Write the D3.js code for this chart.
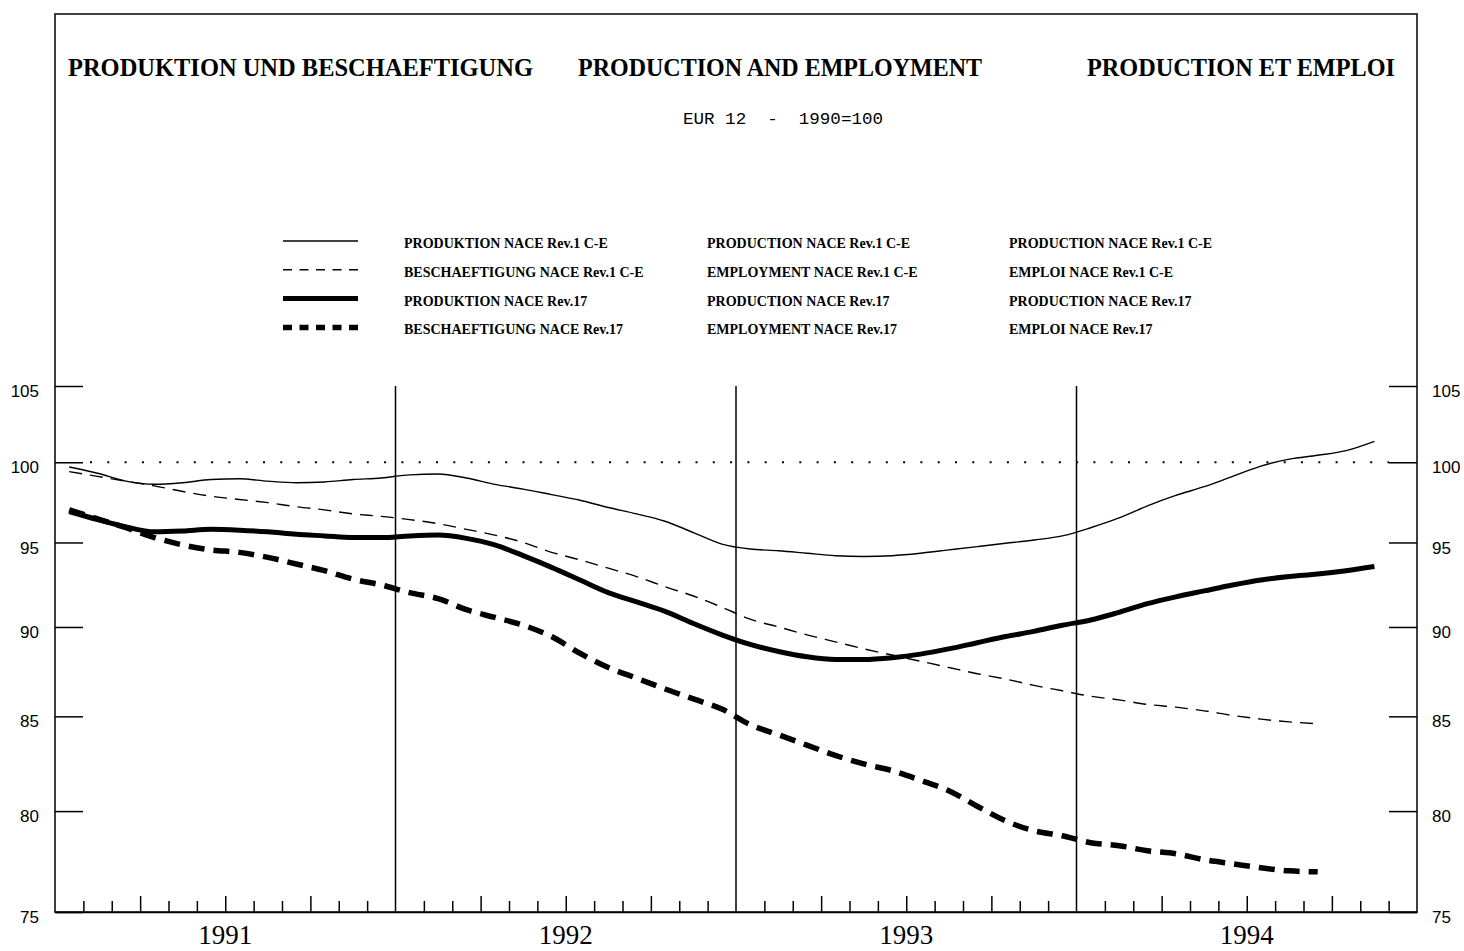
<!DOCTYPE html>
<html>
<head>
<meta charset="utf-8">
<script src="https://cdn.jsdelivr.net/npm/d3@7"></script>
<style>
  body { margin: 0; background: #fff; }
  svg { display: block; background: #fff; }
</style>
</head>
<body>
<svg id="chart" width="1464" height="951"></svg>
<script>
// monthly values, Jan 1991 onwards (EUR 12, 1990 = 100)
const prodRev1 = [99.7, 99.3, 98.8, 98.6, 98.7, 98.9, 98.95, 98.8, 98.7, 98.75, 98.9, 99.0,
  99.2, 99.25, 99.0, 98.6, 98.3, 97.95, 97.6, 97.15, 96.75, 96.3, 95.6, 94.9,
  94.6, 94.5, 94.35, 94.2, 94.15, 94.2, 94.35, 94.55, 94.75, 94.95, 95.15, 95.4,
  95.9, 96.5, 97.25, 97.9, 98.45, 99.1, 99.75, 100.2, 100.45, 100.75, 101.35];
const empRev1 = [99.4, 99.1, 98.8, 98.5, 98.15, 97.85, 97.65, 97.45, 97.2, 97.0, 96.75, 96.6,
  96.4, 96.15, 95.8, 95.45, 95.0, 94.4, 93.95, 93.45, 92.95, 92.35, 91.8, 91.15,
  90.45, 90.0, 89.55, 89.15, 88.75, 88.4, 88.05, 87.7, 87.35, 87.05, 86.7, 86.4,
  86.1, 85.9, 85.65, 85.5, 85.3, 85.05, 84.85, 84.7, 84.6];
const prodRev17 = [96.9, 96.4, 95.95, 95.65, 95.7, 95.8, 95.75, 95.65, 95.5, 95.4, 95.3, 95.3,
  95.4, 95.45, 95.25, 94.85, 94.2, 93.5, 92.75, 92.0, 91.45, 90.9, 90.2, 89.55,
  89.0, 88.6, 88.3, 88.15, 88.15, 88.25, 88.45, 88.75, 89.1, 89.45, 89.75, 90.1,
  90.4, 90.85, 91.35, 91.75, 92.1, 92.45, 92.75, 92.95, 93.1, 93.3, 93.55];
const empRev17 = [97.0, 96.45, 95.9, 95.3, 94.85, 94.55, 94.4, 94.1, 93.7, 93.3, 92.8, 92.45,
  92.0, 91.65, 91.0, 90.55, 90.1, 89.45, 88.5, 87.7, 87.1, 86.5, 85.95, 85.4,
  84.55, 84.0, 83.45, 82.9, 82.45, 82.1, 81.6, 81.05, 80.25, 79.5, 79.0, 78.75,
  78.4, 78.25, 78.0, 77.85, 77.55, 77.35, 77.15, 77.0, 76.95];

const years = [1991, 1992, 1993, 1994];
const yTicks = [75, 80, 85, 90, 95, 100, 105];

const titles = ['PRODUKTION UND BESCHAEFTIGUNG', 'PRODUCTION AND EMPLOYMENT', 'PRODUCTION ET EMPLOI'];
const subtitle = 'EUR 12  -  1990=100';
const legendDe = ['PRODUKTION NACE Rev.1 C-E', 'BESCHAEFTIGUNG NACE Rev.1 C-E', 'PRODUKTION NACE Rev.17', 'BESCHAEFTIGUNG NACE Rev.17'];
const legendEn = ['PRODUCTION NACE Rev.1 C-E', 'EMPLOYMENT NACE Rev.1 C-E', 'PRODUCTION NACE Rev.17', 'EMPLOYMENT NACE Rev.17'];
const legendFr = ['PRODUCTION NACE Rev.1 C-E', 'EMPLOI NACE Rev.1 C-E', 'PRODUCTION NACE Rev.17', 'EMPLOI NACE Rev.17'];

const series = [
  { values: prodRev1, width: 1.4, dash: null },
  { values: empRev1, width: 1.4, dash: '13,8' },
  { values: prodRev17, width: 5, dash: null },
  { values: empRev17, width: 5.5, dash: '16,9' }
];

const plotLeft = 55, plotRight = 1417, plotTop = 386, plotBottom = 912, frameTop = 14;
const serif = '"Liberation Serif", "DejaVu Serif", serif';

const svg = d3.select('#chart');

// months on a linear scale: 0 = Jan 1991, 48 = Jan 1995
const x = d3.scaleLinear().domain([0, 48]).range([plotLeft, plotRight]);
const y = d3.scaleLog().domain([75, 105]).range([plotBottom, plotTop]);

// frame
svg.append('rect')
  .attr('x', plotLeft).attr('y', frameTop)
  .attr('width', plotRight - plotLeft).attr('height', plotBottom - frameTop)
  .attr('fill', 'none').attr('stroke', '#000').attr('stroke-width', 1.5);

// titles
const titleX = [68, 578, 1087];
const titleW = [465, 404, 308];
svg.selectAll('.title')
  .data(titles)
  .enter().append('text')
  .attr('class', 'title')
  .attr('x', (d, i) => titleX[i])
  .attr('y', 76)
  .attr('textLength', (d, i) => titleW[i])
  .attr('lengthAdjust', 'spacingAndGlyphs')
  .style('font-family', serif)
  .style('font-weight', 'bold')
  .style('font-size', '26px')
  .text(d => d);

svg.append('text')
  .attr('x', 683).attr('y', 124)
  .attr('textLength', 200)
  .attr('lengthAdjust', 'spacingAndGlyphs')
  .style('font-family', '"Liberation Mono", "DejaVu Sans Mono", monospace')
  .style('font-size', '17px')
  .style('white-space', 'pre')
  .text(subtitle);

// legend
const legend = svg.append('g');
const rowY = i => 241 + i * 28.8;
series.forEach((s, i) => {
  legend.append('line')
    .attr('x1', 283).attr('x2', 358)
    .attr('y1', rowY(i)).attr('y2', rowY(i))
    .attr('stroke', '#000')
    .attr('stroke-width', s.width)
    .attr('stroke-dasharray', s.dash ? '9,7.5' : null);
});
[[legendDe, 404], [legendEn, 707], [legendFr, 1009]].forEach(([labels, lx]) => {
  legend.selectAll(null)
    .data(labels)
    .enter().append('text')
    .attr('x', lx)
    .attr('y', (d, i) => rowY(i) + 7)
    .style('font-family', serif)
    .style('font-weight', 'bold')
    .style('font-size', '14px')
    .text(d => d);
});

// y axes, ticks pointing inward
const yAxisStyle = g => {
  g.select('.domain').remove();
  g.selectAll('.tick line').attr('stroke', '#000').attr('stroke-width', 1.5);
  g.selectAll('.tick text')
    .attr('dy', '0.62em')
    .style('font-family', '"Liberation Sans", Arial, sans-serif')
    .style('font-size', '17px')
    .attr('fill', '#000');
};

svg.append('g')
  .attr('transform', `translate(${plotLeft},0)`)
  .call(d3.axisLeft(y).tickValues(yTicks).tickFormat(d3.format('d'))
    .tickSizeInner(-28).tickSizeOuter(0).tickPadding(16))
  .call(yAxisStyle);

svg.append('g')
  .attr('transform', `translate(${plotRight},0)`)
  .call(d3.axisRight(y).tickValues(yTicks).tickFormat(d3.format('d'))
    .tickSizeInner(-28).tickSizeOuter(0).tickPadding(15))
  .call(yAxisStyle);

// x axis: month ticks, taller every quarter
const monthTicks = d3.range(1, 48).filter(m => m % 12 !== 0);
svg.append('g')
  .attr('transform', `translate(0,${plotBottom})`)
  .call(d3.axisBottom(x).tickValues(monthTicks).tickFormat('').tickSizeOuter(0))
  .call(g => {
    g.select('.domain').attr('stroke', '#000').attr('stroke-width', 1.5);
    g.selectAll('.tick line')
      .attr('stroke', '#000').attr('stroke-width', 1.5)
      .attr('y2', d => d % 3 === 0 ? -16 : -11);
  });

svg.selectAll('.year')
  .data(years)
  .enter().append('text')
  .attr('class', 'year')
  .attr('x', (d, i) => x(i * 12 + 6))
  .attr('y', 944)
  .attr('text-anchor', 'middle')
  .style('font-family', serif)
  .style('font-size', '27px')
  .text(d => d);

// year separators
svg.selectAll('.sep')
  .data(years.slice(1))
  .enter().append('line')
  .attr('class', 'sep')
  .attr('x1', (d, i) => x((i + 1) * 12)).attr('x2', (d, i) => x((i + 1) * 12))
  .attr('y1', y(105)).attr('y2', y(75))
  .attr('stroke', '#000').attr('stroke-width', 1.5);

// 100 reference line
svg.append('line')
  .attr('x1', plotLeft + 35).attr('x2', plotRight - 28)
  .attr('y1', y(100)).attr('y2', y(100))
  .attr('stroke', '#000')
  .attr('stroke-width', 2)
  .attr('stroke-dasharray', '2,15.3');

// series
const line = d3.line()
  .x((d, i) => x(i + 0.5))
  .y(d => y(d))
  .curve(d3.curveMonotoneX);

svg.selectAll('.series')
  .data(series)
  .enter().append('path')
  .attr('class', 'series')
  .attr('d', d => line(d.values))
  .attr('fill', 'none')
  .attr('stroke', '#000')
  .attr('stroke-width', d => d.width)
  .attr('stroke-dasharray', d => d.dash);
</script>
</body>
</html>
